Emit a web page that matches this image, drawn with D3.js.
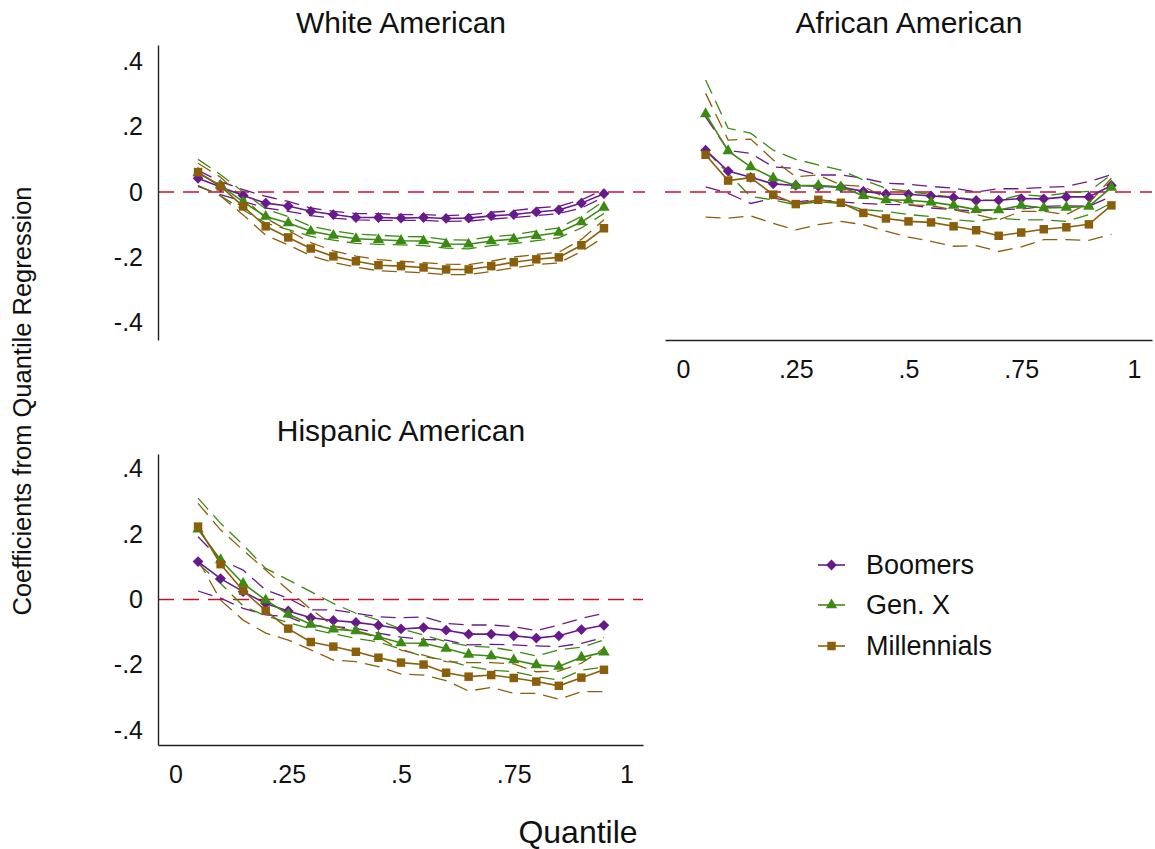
<!DOCTYPE html>
<html>
<head>
<meta charset="utf-8">
<script src="https://cdn.jsdelivr.net/npm/d3@7"></script>
<style>
  body { margin: 0; background: #fff; }
  text { font-family: "Liberation Sans", Arial, Helvetica, sans-serif; }
</style>
</head>
<body>
<div id="chart"></div>
<script>
// quantiles used in every panel
const quantiles = [0.05, 0.10, 0.15, 0.20, 0.25, 0.30, 0.35, 0.40, 0.45, 0.50,
  0.55, 0.60, 0.65, 0.70, 0.75, 0.80, 0.85, 0.90, 0.95];

const xTicks = [0, 0.25, 0.5, 0.75, 1];
const yTicks = [-0.4, -0.2, 0, 0.2, 0.4];
const generations = ['Boomers', 'Gen. X', 'Millennials'];

// White American
const whiteBoomers = [0.042, 0.015, -0.011, -0.034, -0.043, -0.059, -0.069, -0.078, -0.078, -0.080, -0.078, -0.081, -0.080, -0.073, -0.069, -0.061, -0.055, -0.034, -0.005];
const whiteBoomersHi = [0.066, 0.032, 0.007, -0.013, -0.029, -0.049, -0.059, -0.066, -0.066, -0.069, -0.069, -0.072, -0.070, -0.062, -0.057, -0.049, -0.044, -0.024, 0.007];
const whiteBoomersLo = [0.017, -0.008, -0.029, -0.049, -0.059, -0.072, -0.080, -0.085, -0.087, -0.087, -0.087, -0.090, -0.089, -0.083, -0.078, -0.072, -0.066, -0.049, -0.015];
const whiteGenX = [0.058, 0.020, -0.030, -0.075, -0.095, -0.120, -0.133, -0.143, -0.146, -0.149, -0.150, -0.159, -0.160, -0.150, -0.144, -0.134, -0.124, -0.092, -0.047];
const whiteGenXHi = [0.100, 0.053, 0.000, -0.052, -0.075, -0.105, -0.119, -0.129, -0.132, -0.136, -0.137, -0.146, -0.147, -0.137, -0.131, -0.120, -0.110, -0.075, -0.027];
const whiteGenXLo = [0.020, -0.012, -0.055, -0.095, -0.115, -0.136, -0.147, -0.157, -0.160, -0.162, -0.164, -0.172, -0.174, -0.164, -0.158, -0.149, -0.140, -0.110, -0.066];
const whiteMillennials = [0.061, 0.017, -0.044, -0.105, -0.139, -0.173, -0.197, -0.212, -0.224, -0.227, -0.231, -0.237, -0.237, -0.227, -0.215, -0.206, -0.200, -0.163, -0.111];
const whiteMillennialsHi = [0.088, 0.045, -0.018, -0.080, -0.118, -0.155, -0.180, -0.196, -0.207, -0.212, -0.216, -0.221, -0.222, -0.212, -0.199, -0.191, -0.184, -0.145, -0.085];
const whiteMillennialsLo = [0.020, -0.012, -0.070, -0.132, -0.162, -0.195, -0.216, -0.230, -0.241, -0.244, -0.247, -0.253, -0.253, -0.243, -0.232, -0.222, -0.217, -0.182, -0.138];

// African American
const aaBoomers = [0.128, 0.064, 0.045, 0.025, 0.020, 0.018, 0.015, 0.002, -0.006, -0.007, -0.012, -0.017, -0.026, -0.025, -0.020, -0.021, -0.015, -0.015, 0.020];
const aaBoomersHi = [0.230, 0.128, 0.118, 0.077, 0.072, 0.052, 0.052, 0.042, 0.027, 0.024, 0.017, 0.012, 0.000, 0.010, 0.010, 0.014, 0.017, 0.032, 0.053];
const aaBoomersLo = [0.016, -0.004, -0.035, -0.019, -0.030, -0.024, -0.030, -0.035, -0.038, -0.039, -0.049, -0.054, -0.059, -0.054, -0.052, -0.044, -0.042, -0.044, -0.013];
const aaGenX = [0.239, 0.126, 0.077, 0.043, 0.020, 0.020, 0.015, -0.011, -0.024, -0.025, -0.031, -0.041, -0.054, -0.055, -0.041, -0.049, -0.047, -0.044, 0.014];
const aaGenXHi = [0.343, 0.195, 0.180, 0.128, 0.100, 0.083, 0.067, 0.037, 0.011, 0.002, -0.008, -0.015, -0.024, -0.026, -0.008, -0.013, -0.003, 0.002, 0.053];
const aaGenXLo = [0.128, 0.057, -0.014, -0.024, -0.039, -0.030, -0.035, -0.054, -0.059, -0.069, -0.075, -0.085, -0.090, -0.080, -0.085, -0.085, -0.090, -0.069, -0.034];
const aaMillennials = [0.114, 0.035, 0.044, -0.008, -0.037, -0.024, -0.033, -0.064, -0.081, -0.090, -0.093, -0.105, -0.117, -0.134, -0.124, -0.114, -0.108, -0.099, -0.041];
const aaMillennialsHi = [0.302, 0.159, 0.162, 0.098, 0.047, 0.052, 0.022, 0.017, -0.019, -0.039, -0.042, -0.054, -0.069, -0.085, -0.059, -0.059, -0.069, -0.034, 0.042];
const aaMillennialsLo = [-0.077, -0.080, -0.073, -0.096, -0.116, -0.100, -0.090, -0.100, -0.120, -0.138, -0.151, -0.166, -0.164, -0.182, -0.168, -0.146, -0.146, -0.148, -0.130];

// Hispanic American
const hispBoomers = [0.116, 0.064, 0.024, -0.012, -0.035, -0.056, -0.064, -0.070, -0.079, -0.090, -0.086, -0.094, -0.106, -0.106, -0.111, -0.118, -0.111, -0.092, -0.079];
const hispBoomersHi = [0.192, 0.121, 0.090, 0.029, 0.004, -0.032, -0.032, -0.042, -0.053, -0.056, -0.053, -0.073, -0.078, -0.078, -0.083, -0.095, -0.078, -0.058, -0.042];
const hispBoomersLo = [0.026, 0.004, -0.027, -0.047, -0.053, -0.080, -0.083, -0.088, -0.103, -0.115, -0.122, -0.124, -0.139, -0.137, -0.139, -0.142, -0.144, -0.134, -0.116];
const hispGenX = [0.215, 0.121, 0.049, -0.002, -0.045, -0.076, -0.091, -0.096, -0.114, -0.133, -0.134, -0.150, -0.168, -0.173, -0.185, -0.200, -0.205, -0.177, -0.161];
const hispGenXHi = [0.310, 0.233, 0.167, 0.095, 0.060, 0.024, -0.012, -0.042, -0.063, -0.090, -0.109, -0.129, -0.142, -0.146, -0.157, -0.173, -0.154, -0.146, -0.124];
const hispGenXLo = [0.110, 0.049, -0.020, -0.050, -0.070, -0.090, -0.105, -0.119, -0.130, -0.152, -0.175, -0.185, -0.205, -0.216, -0.221, -0.236, -0.246, -0.216, -0.207];
const hispMillennials = [0.223, 0.108, 0.027, -0.034, -0.089, -0.130, -0.144, -0.160, -0.178, -0.193, -0.199, -0.224, -0.236, -0.231, -0.240, -0.251, -0.264, -0.239, -0.215];
const hispMillennialsHi = [0.294, 0.213, 0.151, 0.090, 0.029, -0.030, -0.080, -0.100, -0.115, -0.155, -0.170, -0.190, -0.193, -0.193, -0.197, -0.221, -0.219, -0.195, -0.149];
const hispMillennialsLo = [0.121, -0.002, -0.063, -0.103, -0.124, -0.154, -0.185, -0.190, -0.205, -0.228, -0.231, -0.248, -0.280, -0.269, -0.287, -0.287, -0.305, -0.282, -0.282];

const colors = ['#681a8c', '#3b8b12', '#8b5e0c'];
const symbols = ['diamond', 'triangle', 'square'];
const zeroColor = '#c8102e';
const fontSize = { tick: 25, title: 30, legend: 27 };

const tickFmt = (d) => String(+d.toFixed(2)).replace(/^(-?)0\./, '$1.');

const svg = d3.select('#chart')
  .append('svg')
  .attr('width', 1155)
  .attr('height', 849)
  .style('background', '#fff');

const panels = [
  {
    title: 'White American', titleX: 401, titleY: 22,
    xRange: [158, 645], yRange: [340, 45], xDomain: [-0.0388, 1.041], yDomain: [-0.453, 0.45],
    showX: false, showY: true,
    series: [
      [whiteBoomers, whiteBoomersLo, whiteBoomersHi],
      [whiteGenX, whiteGenXLo, whiteGenXHi],
      [whiteMillennials, whiteMillennialsLo, whiteMillennialsHi]
    ]
  },
  {
    title: 'African American', titleX: 909, titleY: 22,
    xRange: [665, 1152], yRange: [340, 45], xDomain: [-0.04, 1.04], yDomain: [-0.453, 0.45],
    showX: true, showY: false,
    series: [
      [aaBoomers, aaBoomersLo, aaBoomersHi],
      [aaGenX, aaGenXLo, aaGenXHi],
      [aaMillennials, aaMillennialsLo, aaMillennialsHi]
    ]
  },
  {
    title: 'Hispanic American', titleX: 401, titleY: 430,
    xRange: [158, 643], yRange: [745, 454], xDomain: [-0.0388, 1.0366], yDomain: [-0.445, 0.445],
    showX: true, showY: true,
    series: [
      [hispBoomers, hispBoomersLo, hispBoomersHi],
      [hispGenX, hispGenXLo, hispGenXHi],
      [hispMillennials, hispMillennialsLo, hispMillennialsHi]
    ]
  }
];

const markerPath = (type) => {
  if (type === 'triangle') return d3.symbol().type(d3.symbolTriangle).size(56)();
  return d3.symbol().type(d3.symbolSquare).size(type === 'square' ? 72 : 58)();
};
const markerRotate = (type) => (type === 'diamond' ? ' rotate(45)' : '');

const styleAxis = (sel) => {
  sel.select('.domain').attr('stroke', '#222').attr('stroke-width', 1.4);
  sel.selectAll('text')
    .attr('font-size', fontSize.tick)
    .attr('fill', '#111')
    .style('font-family', '"Liberation Sans", Arial, sans-serif');
};

const drawPanel = (p) => {
  const x = d3.scaleLinear().domain(p.xDomain).range(p.xRange);
  const y = d3.scaleLinear().domain(p.yDomain).range(p.yRange);
  const g = svg.append('g');

  g.append('text')
    .attr('x', p.titleX)
    .attr('y', p.titleY)
    .attr('dy', '0.35em')
    .attr('text-anchor', 'middle')
    .attr('font-size', fontSize.title)
    .attr('fill', '#111')
    .text(p.title);

  // zero reference line
  g.append('line')
    .attr('x1', p.xRange[0])
    .attr('x2', p.xRange[1])
    .attr('y1', y(0))
    .attr('y2', y(0))
    .attr('stroke', zeroColor)
    .attr('stroke-width', 1.3)
    .attr('stroke-dasharray', '16,9');

  if (p.showY) {
    g.append('g')
      .attr('transform', 'translate(' + p.xRange[0] + ',0)')
      .call(d3.axisLeft(y).tickValues(yTicks).tickFormat(tickFmt).tickSize(0).tickPadding(15))
      .call(styleAxis);
  }
  if (p.showX) {
    g.append('g')
      .attr('transform', 'translate(0,' + p.yRange[0] + ')')
      .call(d3.axisBottom(x).tickValues(xTicks).tickFormat(tickFmt).tickSize(0).tickPadding(20))
      .call(styleAxis);
  }

  const line = (vals) => d3.line()
    .x((d, i) => x(quantiles[i]))
    .y((d) => y(d))(vals);

  // confidence bands first
  p.series.forEach((s, k) => {
    [s[1], s[2]].forEach((band) => {
      g.append('path')
        .attr('d', line(band))
        .attr('fill', 'none')
        .attr('stroke', colors[k])
        .attr('stroke-width', 1.3)
        .attr('stroke-dasharray', '15,8');
    });
  });

  p.series.forEach((s, k) => {
    g.append('path')
      .attr('d', line(s[0]))
      .attr('fill', 'none')
      .attr('stroke', colors[k])
      .attr('stroke-width', 1.6);

    g.selectAll('.m' + k)
      .data(s[0])
      .enter().append('path')
        .attr('class', 'm' + k)
        .attr('d', markerPath(symbols[k]))
        .attr('fill', colors[k])
        .attr('transform', (d, i) => 'translate(' + x(quantiles[i]) + ',' + y(d) + ')' + markerRotate(symbols[k]));
  });
};

panels.forEach(drawPanel);

// legend
const legendY = [565, 605, 646];
const legend = svg.append('g');
generations.forEach((name, k) => {
  const row = legend.append('g').attr('transform', 'translate(0,' + legendY[k] + ')');
  row.append('line')
    .attr('x1', 818).attr('x2', 845)
    .attr('stroke', colors[k]).attr('stroke-width', 1.6);
  row.append('path')
    .attr('d', markerPath(symbols[k]))
    .attr('fill', colors[k])
    .attr('transform', 'translate(831.5,0)' + markerRotate(symbols[k]));
  row.append('text')
    .attr('x', 866)
    .attr('dy', '0.35em')
    .attr('font-size', fontSize.legend)
    .attr('fill', '#111')
    .text(name);
});

// axis titles
svg.append('text')
  .attr('transform', 'translate(22,401) rotate(-90)')
  .attr('dy', '0.35em')
  .attr('text-anchor', 'middle')
  .attr('font-size', 25.5)
  .attr('fill', '#111')
  .text('Coefficients from Quantile Regression');

svg.append('text')
  .attr('x', 578)
  .attr('y', 832)
  .attr('dy', '0.35em')
  .attr('text-anchor', 'middle')
  .attr('font-size', 32)
  .attr('fill', '#111')
  .text('Quantile');
</script>
</body>
</html>
